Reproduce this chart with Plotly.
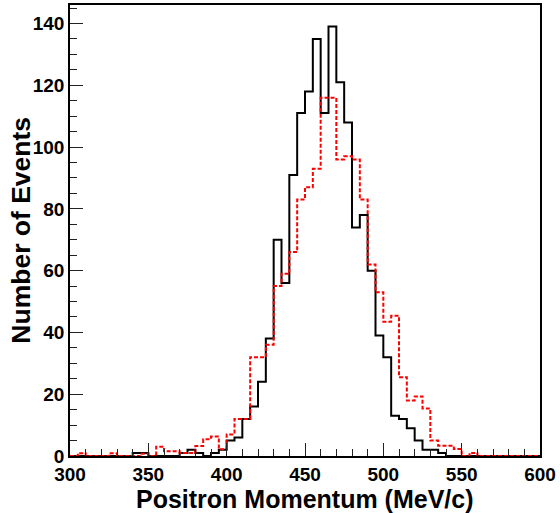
import numpy as np
import plotly.graph_objects as go

# Bin lower edges (MeV/c), 5 MeV/c wide bins from 300 to 600
bin_width = 5
bin_lows = list(range(300, 600, 5))

# Black solid histogram (data)
black_counts = [0, 0, 0, 0, 0, 0, 0, 0, 1, 1,
                0, 0, 0, 0, 1, 2, 1, 0, 1, 2,
                5, 6, 12, 16, 24, 38, 70, 56, 91, 111,
                118, 135, 111, 139, 121, 108, 74, 78, 60, 39,
                32, 13, 12, 9, 5, 2, 2, 1, 0, 0,
                0, 0, 0, 0, 0, 0, 0, 0, 0, 0]

# Red dotted histogram (simulation)
red_counts = [0, 0.9, 0, 0, 0, 0.9, 0, 0, 0, 0.7,
              0, 3, 1.5, 1.5, 1, 1, 3.2, 5.4, 6.3, 2.2,
              7, 12, 12, 32, 32, 36, 55, 59, 66, 83,
              87, 93, 116, 116, 96, 97, 96, 83, 62, 53,
              43.5, 45.4, 25.5, 18, 19.3, 15.4, 5, 3.3, 3.3, 2.3,
              0, 1, 0, 0, 0, 0, 0, 0, 0, 0]

x_ticks = [300, 350, 400, 450, 500, 550, 600]
y_ticks = [0, 20, 40, 60, 80, 100, 120, 140]

edges = bin_lows + [bin_lows[-1] + bin_width]


def step_trace(counts, color, dash, width):
    return go.Scatter(
        x=edges,
        y=list(counts) + [counts[-1]],
        mode="lines",
        line=dict(shape="hv", color=color, dash=dash, width=width),
        hoverinfo="skip",
        showlegend=False,
    )


fig = go.Figure()
fig.add_trace(step_trace(black_counts, "#000000", "solid", 2))
fig.add_trace(step_trace(red_counts, "#ff0000", "4px,2px", 2))

font_family = "Liberation Sans, Arial, Helvetica, sans-serif"

fig.update_layout(
    width=560,
    height=513,
    margin=dict(l=70, r=20, t=5, b=57),
    paper_bgcolor="white",
    plot_bgcolor="white",
    font=dict(family=font_family, color="black"),
    xaxis=dict(
        range=[300, 600],
        tickvals=x_ticks,
        ticks="inside",
        ticklen=13,
        tickwidth=1,
        tickcolor="#222",
        minor=dict(dtick=10, tick0=300, ticks="inside", ticklen=7, tickcolor="#222", showgrid=False),
        showline=True,
        linecolor="black",
        linewidth=1.5,
        mirror=True,
        showgrid=False,
        zeroline=False,
        tickfont=dict(size=19, family=font_family, weight="bold"),
        automargin=False,
    ),
    yaxis=dict(
        range=[0, 146],
        tickvals=y_ticks,
        ticks="inside",
        ticklen=13,
        tickwidth=1,
        tickcolor="#222",
        minor=dict(dtick=5, tick0=0, ticks="inside", ticklen=7, tickcolor="#222", showgrid=False),
        showline=True,
        linecolor="black",
        linewidth=1.5,
        mirror=True,
        showgrid=False,
        zeroline=False,
        tickfont=dict(size=19, family=font_family, weight="bold"),
        automargin=False,
    ),
    annotations=[
        dict(
            text="Positron Momentum (MeV/c)",
            xref="paper", yref="paper",
            x=0.5, y=-0.095,
            xanchor="center", yanchor="middle",
            showarrow=False,
            font=dict(size=25, family=font_family, weight="bold", color="black"),
        ),
        dict(
            text="Number of Events",
            xref="paper", yref="paper",
            x=-0.106, y=0.5,
            xanchor="center", yanchor="middle",
            textangle=-90,
            showarrow=False,
            font=dict(size=26.5, family=font_family, weight="bold", color="black"),
        ),
    ],
)

fig.write_html(
    "out.html",
    config={"displayModeBar": False},
    post_script="document.body.style.margin='0';document.body.style.overflow='hidden';",
)
